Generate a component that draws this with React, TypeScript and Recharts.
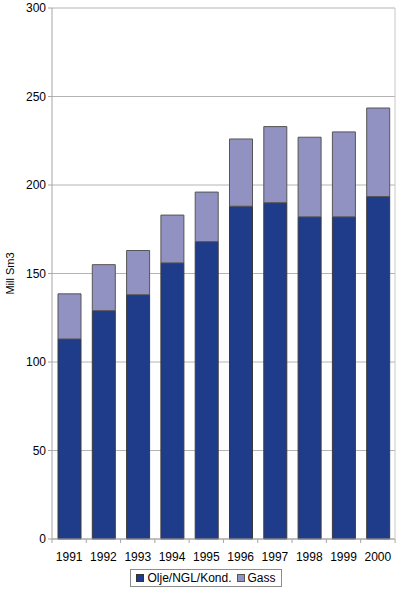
import React from 'react';
import { BarChart, Bar, XAxis, YAxis, CartesianGrid } from 'recharts';

const years = ['1991', '1992', '1993', '1994', '1995', '1996', '1997', '1998', '1999', '2000'];
const olje = [113, 129, 138, 156, 168, 188, 190, 182, 182, 193.5];
const gass = [25.5, 26, 25, 27, 28, 38, 43, 45, 48, 50];
const yTicks = [0, 50, 100, 150, 200, 250, 300];

const data = years.map((y, i) => ({ year: y, olje: olje[i], gass: gass[i] }));

const OIL = '#1F3C8A';
const GAS = '#9191C2';
const AXIS = '#a6a6a6';
const FONT = 'Arial, "Liberation Sans", sans-serif';

const PLOT_LEFT = 52;
const PLOT_RIGHT = 396;
const STEP = (PLOT_RIGHT - PLOT_LEFT) / years.length;

const XTick = (props: any) => {
  const { x, y, payload, index } = props;
  return (
    <g>
      <line x1={x - STEP / 2} x2={x - STEP / 2} y1={y - 8} y2={y - 4} stroke={AXIS} />
      {index === years.length - 1 && (
        <line x1={x + STEP / 2} x2={x + STEP / 2} y1={y - 8} y2={y - 4} stroke={AXIS} />
      )}
      <text x={x} y={y + 14} textAnchor="middle" fontSize={12} fill="#000" fontFamily={FONT}>
        {payload.value}
      </text>
    </g>
  );
};

const YLabel = (props: any) => {
  const vb = props.viewBox || {};
  const cy = (vb.y || 0) + (vb.height || 0) / 2;
  return (
    <text
      x={10}
      y={cy}
      transform={`rotate(-90, 10, ${cy})`}
      textAnchor="middle"
      dominantBaseline="central"
      fontSize={11}
      fill="#000"
      fontFamily={FONT}
    >
      Mill Sm3
    </text>
  );
};

export default function App() {
  return (
    <div style={{ position: 'absolute', left: 0, top: 0, width: 397, height: 589, background: '#fff' }}>
      <BarChart
        width={397}
        height={589}
        data={data}
        margin={{ top: 8, right: 1, left: 0, bottom: 20 }}
        barSize={23}
      >
        <CartesianGrid vertical={false} stroke="#b4b4b4" strokeWidth={1} />
        <XAxis
          dataKey="year"
          axisLine={{ stroke: AXIS }}
          tickLine={false}
          tick={<XTick />}
          interval={0}
          height={30}
        />
        <YAxis
          width={52}
          domain={[0, 300]}
          ticks={yTicks}
          interval={0}
          axisLine={{ stroke: AXIS }}
          tickLine={{ stroke: AXIS }}
          tickSize={4}
          tick={{ fontSize: 12, fill: '#000', fontFamily: FONT }}
          label={<YLabel />}
        />
        <YAxis
          yAxisId="r"
          orientation="right"
          width={1}
          domain={[0, 300]}
          tick={false}
          tickLine={false}
          axisLine={{ stroke: '#c8c8c8' }}
        />
        <Bar dataKey="olje" stackId="a" fill={OIL} stroke="#3a3a3a" strokeWidth={1} isAnimationActive={false} />
        <Bar dataKey="gass" stackId="a" fill={GAS} stroke="#555555" strokeWidth={1} isAnimationActive={false} />
      </BarChart>
      <div
        style={{
          position: 'absolute',
          left: 130,
          top: 569,
          width: 152,
          height: 18,
          border: '1px solid #8c8c8c',
          boxSizing: 'border-box',
          display: 'flex',
          alignItems: 'center',
          justifyContent: 'center',
          fontFamily: FONT,
          fontSize: 12,
          color: '#000',
          gap: 3,
        }}
      >
        <span style={{ display: 'inline-block', width: 8, height: 8, background: OIL, border: '1px solid #333', boxSizing: 'border-box' }} />
        <span>Olje/NGL/Kond.</span>
        <span style={{ display: 'inline-block', width: 8, height: 8, background: GAS, border: '1px solid #555', boxSizing: 'border-box', marginLeft: 2 }} />
        <span>Gass</span>
      </div>
    </div>
  );
}
